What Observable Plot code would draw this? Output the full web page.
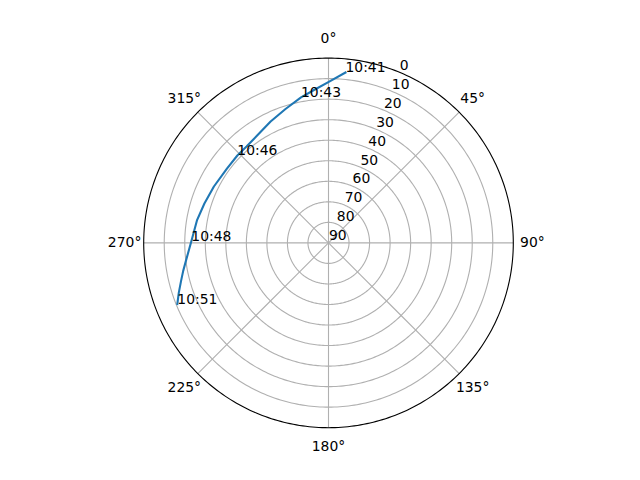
<!DOCTYPE html>
<html><head><meta charset="utf-8">
<script src="https://cdn.jsdelivr.net/npm/d3@7"></script>
<script src="https://cdn.jsdelivr.net/npm/@observablehq/plot@0.6"></script>
<style>html,body{margin:0;padding:0;background:#fff}</style>
</head><body><div id="chart"></div>
<script>
// Sky track: azimuth (deg, clockwise from north) and elevation (deg)
const azimuth   = [5.7, 0.1, 354.6, 349.3, 342.2, 334.5, 326.4, 319.6, 313.8, 306.2, 296.2, 287.6, 279.7, 270.7, 263.0, 255.3, 248.0];
const elevation = [6.6, 11.6, 15.2, 17.9, 21.5, 24.5, 27.2, 28.4, 28.5, 28.7, 27.8, 26.6, 25.0, 23.2, 20.1, 15.7, 10.6];
const timeLabel = ["10:41", null, null, "10:43", null, null, null, null, "10:46", null, null, null, null, "10:48", null, null, "10:51"];

const thetaTicks = [0, 45, 90, 135, 180, 225, 270, 315];
const rTicks = [0, 10, 20, 30, 40, 50, 60, 70, 80, 90];
const rLabelAngle = 22.5;

const track = azimuth.map((a, i) => ({az: a, el: elevation[i], t: timeLabel[i]}));
const lon = az => 180 - az;   // azimuth -> projection longitude (north up, clockwise)
const ring = e => d3.geoCircle().center([0, 90]).radius(90 - e).precision(1)();

const chart = Plot.plot({
  width: 640,
  height: 480,
  marginLeft: 143.2,
  marginRight: 127.2,
  marginTop: 57.6,
  marginBottom: 52.8,
  style: {fontFamily: "DejaVu Sans", fontSize: "13.9px", background: "white", color: "black"},
  projection: {
    type: "azimuthal-equidistant",
    rotate: [0, -90],
    domain: ring(0),
    inset: 0,
    clip: false
  },
  marks: [
    Plot.geo(rTicks.filter(e => e > 0 && e < 90).map(ring), {stroke: "#b0b0b0", strokeWidth: 1.11, fill: "none"}),
    Plot.link(thetaTicks, {x1: d => lon(d), y1: 90, x2: d => lon(d), y2: 0, stroke: "#b0b0b0", strokeWidth: 1.11}),
    Plot.line(track, {x: d => lon(d.az), y: "el", stroke: "#1f77b4", strokeWidth: 2.08, strokeLinecap: "square", strokeLinejoin: "round"}),
    Plot.geo([ring(0)], {stroke: "black", strokeWidth: 1.11, fill: "none"}),
    Plot.text(thetaTicks, {x: d => lon(d), y: -9.3, text: d => d + "°", fontSize: 13.9, textAnchor: "middle", lineAnchor: "middle", fill: "black"}),
    Plot.text(rTicks, {x: lon(rLabelAngle), y: d => d, text: d => String(d), fontSize: 13.9, textAnchor: "start", lineAnchor: "bottom", dx: 0.5, dy: -2.5, fill: "black"}),
    Plot.text(track.filter(d => d.t), {x: d => lon(d.az), y: "el", text: "t", fontSize: 13.9, textAnchor: "start", lineAnchor: "bottom", fill: "black"})
  ]
});
document.getElementById("chart").appendChild(chart);
</script>
</body></html>
